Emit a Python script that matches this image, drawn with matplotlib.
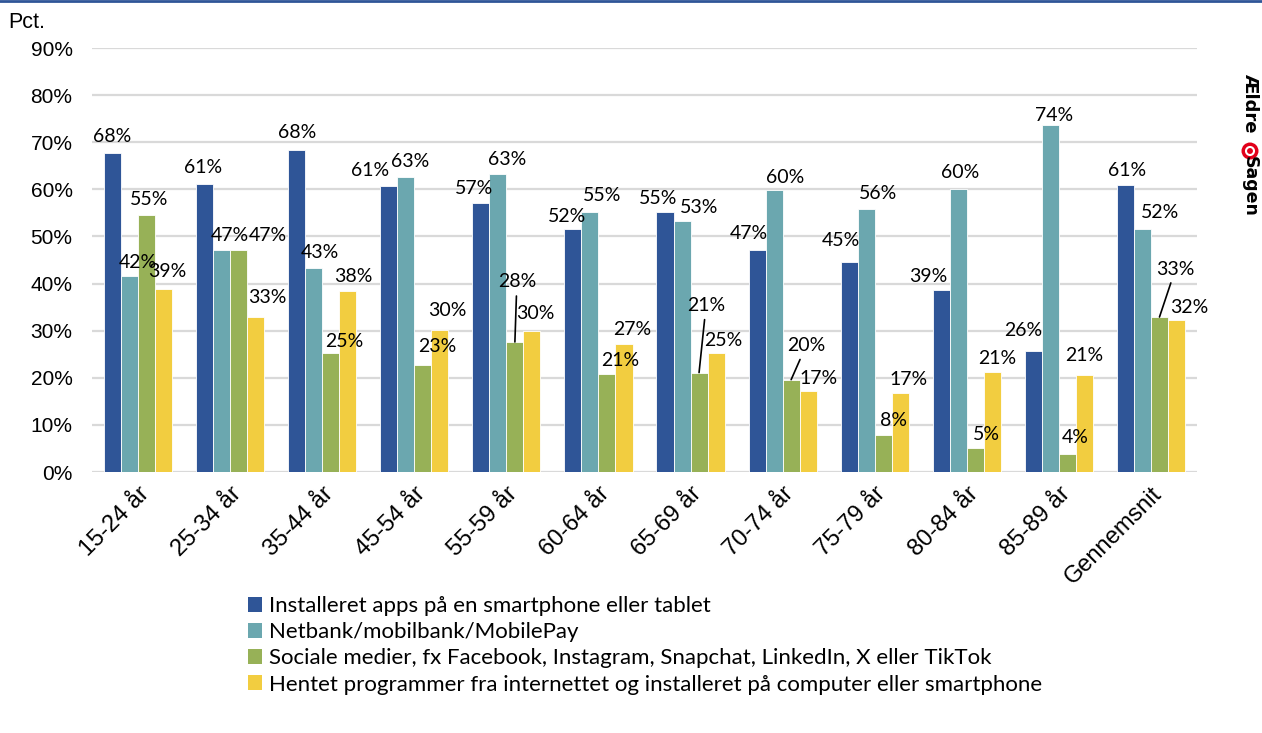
import matplotlib
matplotlib.use("Agg")
import matplotlib.pyplot as plt
import numpy as np
from matplotlib.patches import Patch, Circle
from matplotlib.lines import Line2D

# data
groups = ["15-24 år", "25-34 år", "35-44 år", "45-54 år", "55-59 år", "60-64 år",
          "65-69 år", "70-74 år", "75-79 år", "80-84 år", "85-89 år", "Gennemsnit"]
series_names = [
    "Installeret apps på en smartphone eller tablet",
    "Netbank/mobilbank/MobilePay",
    "Sociale medier, fx Facebook, Instagram, Snapchat, LinkedIn, X eller TikTok",
    "Hentet programmer fra internettet og installeret på computer eller smartphone",
]
apps = [67.8, 61.2, 68.3, 60.8, 57.2, 51.6, 55.2, 47.2, 44.6, 38.7, 25.7, 61.0]
netbank = [41.7, 47.2, 43.3, 62.6, 63.2, 55.2, 53.2, 59.8, 55.9, 60.1, 73.7, 51.6]
social = [54.6, 47.2, 25.2, 22.8, 27.6, 20.7, 21.1, 19.6, 7.9, 5.1, 3.8, 32.9]
programs = [38.9, 32.8, 38.4, 30.2, 30.0, 27.2, 25.2, 17.1, 16.8, 21.3, 20.6, 32.2]
colors = ["#2F5597", "#6BA7AF", "#97B157", "#F2CD40"]

# label offsets in pixels (dx, dy) from the top centre of each bar
offsets = [
    [(0, 16), (8, 13), (3, 15), (4, 17)],
    [(-2, 16), (8, 14), (29, 14), (12, 20)],
    [(0, 18), (6, 16), (14, 12), (6, 15)],
    [(-19, 15), (4, 16), (14, 18), (7, 19)],
    [(-7, 14), (9, 15), (2, 60), (3, 17)],
    [(-6, 12), (12, 16), (13, 14), (8, 14)],
    [(-7, 13), (17, 14), (7, 67), (7, 13)],
    [(-8, 16), (11, 13), (15, 34), (10, 13)],
    [(-8, 21), (12, 15), (10, 14), (8, 13)],
    [(-13, 13), (2, 16), (11, 13), (5, 13)],
    [(-10, 20), (4, 9), (8, 17), (0, 19)],
    [(2, 14), (18, 16), (16, 48), (13, 13)],
]
leaders = {(4, 2), (6, 2), (7, 2), (11, 2)}

fig = plt.figure(figsize=(12.62, 7.33), dpi=100)
ax = fig.add_axes([92 / 1262, 1 - 472 / 733, (1197 - 92) / 1262, (472 - 48) / 733])

x = np.arange(len(groups))
w = 0.185
all_series = [apps, netbank, social, programs]
for s, vals in enumerate(all_series):
    pos = x + (s - 1.5) * w
    ax.bar(pos, vals, w, color=colors[s], edgecolor="white", linewidth=0.6, zorder=3)
    for g, v in enumerate(vals):
        dx, dy = offsets[g][s]
        ap = None
        if (g, s) in leaders:
            ap = dict(arrowstyle="-", color="black", lw=1.2, shrinkA=2, shrinkB=0)
        ax.annotate(f"{int(v + 0.5)}%", xy=(pos[g], v), xytext=(dx, dy),
                    textcoords="offset pixels", ha="center", va="center",
                    fontsize=14, family="Lato", arrowprops=ap, zorder=5)

ax.set_xlim(-0.5, len(groups) - 0.5)
ax.set_ylim(0, 90)
ax.set_yticks(np.arange(0, 91, 10))
ax.set_yticklabels([f"{t}%" for t in range(0, 91, 10)], family="Liberation Sans", fontsize=15)
ax.yaxis.grid(True, color="#D9D9D9", linewidth=1.6, zorder=0)
ax.set_axisbelow(True)
ax.tick_params(axis="y", length=0, pad=14)
ax.tick_params(axis="x", length=0, pad=8)
ax.set_xticks(x)
ax.set_xticklabels(groups, rotation=45, ha="right", rotation_mode="anchor",
                   family="Liberation Sans", fontsize=17)
for sp in ax.spines.values():
    sp.set_visible(False)

fig.text(8 / 1262, 1 - 22 / 733, "Pct.", family="Liberation Sans", fontsize=15.5,
         ha="left", va="center")

handles = [Patch(facecolor=c, edgecolor="none") for c in colors]
fig.legend(handles, series_names, loc="upper left", bbox_to_anchor=(239 / 1262, 1 - 587 / 733),
           frameon=False, prop={"family": "Lato", "size": 16}, handlelength=0.65,
           handleheight=0.65, handletextpad=0.3, labelspacing=0.28, borderaxespad=0)

# top rule
fig.add_artist(Line2D([0, 1], [1 - 1 / 733, 1 - 1 / 733], color="#2F5597", lw=2))

# logo
fig.text(1250 / 1262, 1 - 103 / 733, "Ældre", rotation=-90, ha="center", va="center",
         fontsize=13, fontweight="bold", family="DejaVu Sans")
fig.text(1250 / 1262, 1 - 186 / 733, "Sagen", rotation=-90, ha="center", va="center",
         fontsize=12.5, fontweight="bold", family="DejaVu Sans")
circ = Circle((1250, 733 - 151), 8.5, transform=None, facecolor="#E2001A", edgecolor="none")
fig.add_artist(circ)
circ2 = Circle((1250, 733 - 151), 4, transform=None, facecolor="none", edgecolor="white", lw=1.5)
fig.add_artist(circ2)

fig.savefig("out.png", dpi=100)
